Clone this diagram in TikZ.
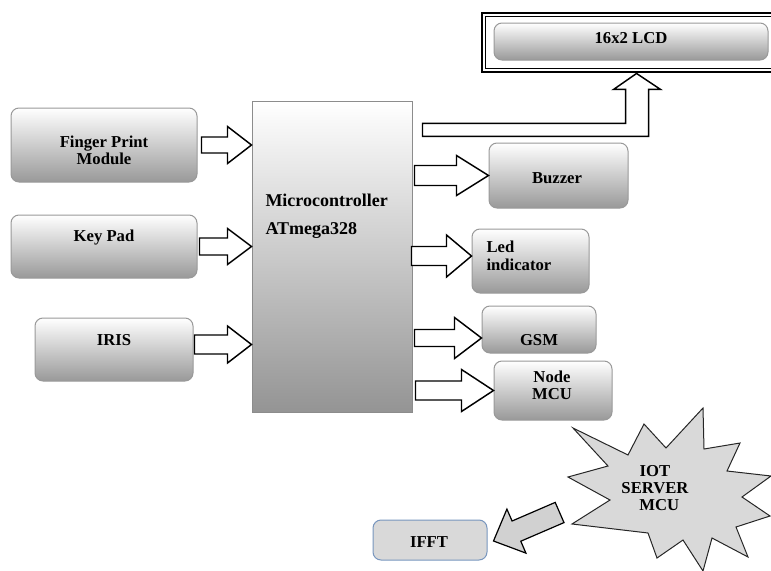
\documentclass[tikz,border=0pt]{standalone}
\usepackage{fontspec}
\setmainfont{Liberation Serif}
\usetikzlibrary{calc,positioning}

\tikzset{every picture/.style={line width=0.75pt}}
\tikzset{
  grbox/.style={draw=black!40, rounded corners=6pt, top color=white, bottom color=black!40, inner sep=0pt},
  mcbox/.style={draw=black!45, top color=white, bottom color=black!42, inner sep=0pt},
  ifbox/.style={draw={rgb,255:red,120;green,150;blue,190}, rounded corners=6pt, fill=black!15, inner sep=0pt},
  hollow/.style={draw=black, fill=white, line width=1.1pt, line join=miter},
  lbl/.style={font=\fontsize{12.5}{13}\selectfont\bfseries, inner sep=0.75pt, align=center},
}
% hollow block arrow: tip, length, shaft half width, head half width, head length
\newcommand{\blockarr}[5]{%
  \draw[hollow] ($(#1)+(-#2,-#3)$) -- ($(#1)+(-#5,-#3)$) -- ($(#1)+(-#5,-#4)$) -- (#1)
    -- ($(#1)+(-#5,#4)$) -- ($(#1)+(-#5,#3)$) -- ($(#1)+(-#2,#3)$) -- cycle;}

\begin{document}
\begin{tikzpicture}[x=0.75pt,y=0.75pt,yscale=-1,xscale=1]
    \useasboundingbox (0,0) rectangle (771,571);
    %Shape: Rounded Rect -- inputs
    \node[grbox, minimum width=139.5pt, minimum height=55.5pt] (fp) at (104,145) {};
    \node[grbox, minimum width=139.5pt, minimum height=47.25pt] (kp) at (104,246.5) {};
    \node[grbox, minimum width=118.5pt, minimum height=47.25pt] (iris) at (114,349.5) {};
    %Shape: Rectangle -- controller
    \node[mcbox, minimum width=120pt, minimum height=233.25pt] (mc) at (332,256.5) {};
    %Shape: LCD frame
    \node[draw, line width=2.2pt, minimum width=222pt, minimum height=44.25pt, inner sep=0pt] (lcdf) at (630,42.5) {};
    \draw ($(lcdf.south west)+(4.5,-4.5)$) rectangle ($(lcdf.north east)+(-4.5,4.5)$) ;
    \node[grbox, minimum width=205.5pt, minimum height=27.75pt] (lcd) at (631,41.5) {};
    %Shape: Rounded Rect -- outputs
    \node[grbox, minimum width=104.25pt, minimum height=48.75pt] (bz) at (558.5,175.5) {};
    \node[grbox, minimum width=87.75pt, minimum height=48pt] (led) at (530.5,261) {};
    \node[grbox, minimum width=85.5pt, minimum height=35.25pt] (gsm) at (539,329.5) {};
    \node[grbox, minimum width=88.5pt, minimum height=44.25pt] (nmcu) at (553,390.5) {};
    \node[ifbox, minimum width=85.5pt, minimum height=30pt] (ifft) at (430,540) {};
    %Shape: Explosion
    \draw[draw=black!85, fill=black!15] (573,428) -- (628,455) -- (644,424) -- (666,448) -- (703,408) -- (704,449) -- (740,443) -- (727,471) -- (771,476) -- (742,497) -- (770,516) -- (736,527) -- (748,557) -- (712,538) -- (703,571) -- (683,540) -- (657,558) -- (648,533) -- (572,524) -- (610,500) -- (568,477) -- (608,466) -- cycle ;

    %Block Arrows
    \coordinate (irisin) at ($(iris.east -| mc.west)+(0,-5)$);
    \coordinate (ledin) at ($(led.west)+(0,-5)$);
    \coordinate (gsmin) at ($(gsm.west)+(0,8.5)$);
    \coordinate (lcdin) at ($(lcdf.south west)+(156,0)$);
    \coordinate (ifin) at ($(ifft.east)+(6,1)$);
    \blockarr{fp.east -| mc.west}{50}{8}{18.5}{24}
    \blockarr{kp.east -| mc.west}{52}{8.5}{18}{24}
    \blockarr{irisin}{57}{9.5}{18.5}{24}
    \blockarr{bz.west}{74}{10}{20}{32}
    \blockarr{ledin}{60}{9.5}{21}{25}
    \blockarr{gsmin}{67}{8.5}{20.5}{27}
    \blockarr{nmcu.west}{78}{9.5}{21}{32}
    %Elbow Arrow
    \draw[hollow] ($(mc.east |- lcdin)+(10,50)$) -- ($(lcdin)+(-11,50)$) -- ($(lcdin)+(-11,16)$) -- ($(lcdin)+(-23,16)$) -- (lcdin) -- ($(lcdin)+(24,16)$) -- ($(lcdin)+(12,16)$) -- ($(lcdin)+(12,63)$) -- ($(mc.east |- lcdin)+(10,63)$) -- cycle ;
    %Left Arrow
    \draw[draw=black, fill=black!18, line width=0.9pt, line join=miter] (ifin) -- ($(ifin)+(13.4,-31.9)$) -- ($(ifin)+(18.6,-20)$) -- ($(ifin)+(61.7,-38.6)$) -- ($(ifin)+(70.5,-18.4)$) -- ($(ifin)+(27.3,0.2)$) -- ($(ifin)+(32.4,12.1)$) -- cycle ;

    % Text Node
    \node[lbl] (fptxt) at (104,150) {Finger Print\\Module};
    % Text Node
    \node[lbl] (kptxt) at (104,238) {Key Pad};
    % Text Node
    \node[lbl] (iristxt) at (114,340) {IRIS};
    % Text Node
    \node[lbl, anchor=west, align=left, font=\fontsize{13.5}{21}\selectfont\bfseries] (mctxt) at (264,216) {Microcontroller\\ATmega328};
    % Text Node
    \node[lbl] (lcdtxt) at (631,38) {16x2 LCD};
    % Text Node
    \node[lbl] (bztxt) at (557,178) {Buzzer};
    % Text Node
    \node[lbl, anchor=west, align=left, font=\fontsize{12.5}{13.5}\selectfont\bfseries] (ledtxt) at (485,256) {Led\\indicator};
    % Text Node
    \node[lbl] (gsmtxt) at (539,340) {GSM};
    % Text Node
    \node[lbl] (nmcutxt) at (552,385) {Node\\MCU};
    % Text Node
    \node[lbl] (iffttxt) at (429,542) {IFFT};
    % Text Node
    \node[lbl] (iot) at (655,488) {IOT\\SERVER\\\ \ MCU};
\end{tikzpicture}
\end{document}
